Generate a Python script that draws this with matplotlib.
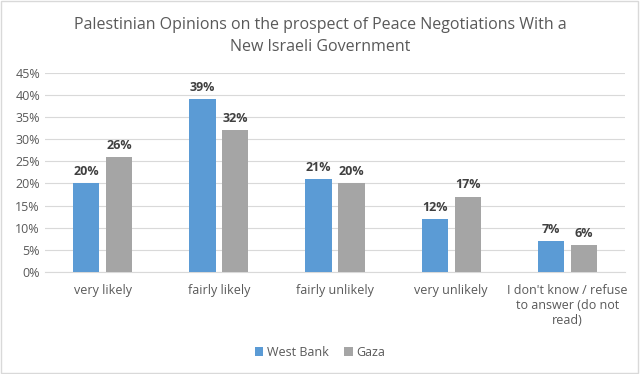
import numpy as np
import matplotlib.pyplot as plt
from matplotlib.patches import Rectangle

categories = ["very likely", "fairly likely", "fairly unlikely", "very unlikely",
              "I don't know / refuse\nto answer (do not\nread)"]
west_bank = [20, 39, 21, 12, 7]
gaza = [26, 32, 20, 17, 6]
yticks = [0, 5, 10, 15, 20, 25, 30, 35, 40, 45]

plt.rcParams["font.family"] = ["Open Sans", "DejaVu Sans"]

fig = plt.figure(figsize=(6.4, 3.74), dpi=100)
ax = fig.add_axes([0.07, 0.273, 0.907, 0.532])

x = np.arange(len(categories))
w = 0.225
ax.bar(x - 0.142, west_bank, w, color="#5B9BD5", label="West Bank", zorder=3)
ax.bar(x + 0.142, gaza, w, color="#A5A5A5", label="Gaza", zorder=3)

for xi, v in zip(x, west_bank):
    ax.text(xi - 0.142, v + 1.2, f"{v}%", ha="center", va="bottom",
            fontsize=9, fontweight="bold", color="#404040")
for xi, v in zip(x, gaza):
    ax.text(xi + 0.142, v + 1.2, f"{v}%", ha="center", va="bottom",
            fontsize=9, fontweight="bold", color="#404040")

ax.set_ylim(0, 45)
ax.set_xlim(-0.5, len(categories) - 0.5)
ax.set_yticks(yticks)
ax.set_yticklabels([f"{t}%" for t in yticks])
ax.set_xticks(x)
ax.set_xticklabels(categories)
ax.grid(axis="y", color="#D9D9D9", lw=0.8, zorder=0)
for s in ["top", "right", "left"]:
    ax.spines[s].set_visible(False)
ax.spines["bottom"].set_color("#D9D9D9")
ax.tick_params(axis="both", length=0, labelsize=9, colors="#595959")
ax.tick_params(axis="x", pad=9)

fig.text(0.5, 0.905, "Palestinian Opinions on the prospect of Peace Negotiations With a\nNew Israeli Government",
         ha="center", va="center", fontsize=11.5, color="#595959", linespacing=1.5)

fig.legend(loc="center", bbox_to_anchor=(0.5, 0.058), ncol=2, frameon=False,
           fontsize=9, handlelength=0.7, handleheight=0.7, columnspacing=1.2,
           handletextpad=0.3, labelcolor="#595959")

fig.patches.append(Rectangle((0.002, 0.003), 0.995, 0.993, transform=fig.transFigure,
                             fill=False, edgecolor="#D9D9D9", lw=1))

fig.savefig("out.png", dpi=100)
